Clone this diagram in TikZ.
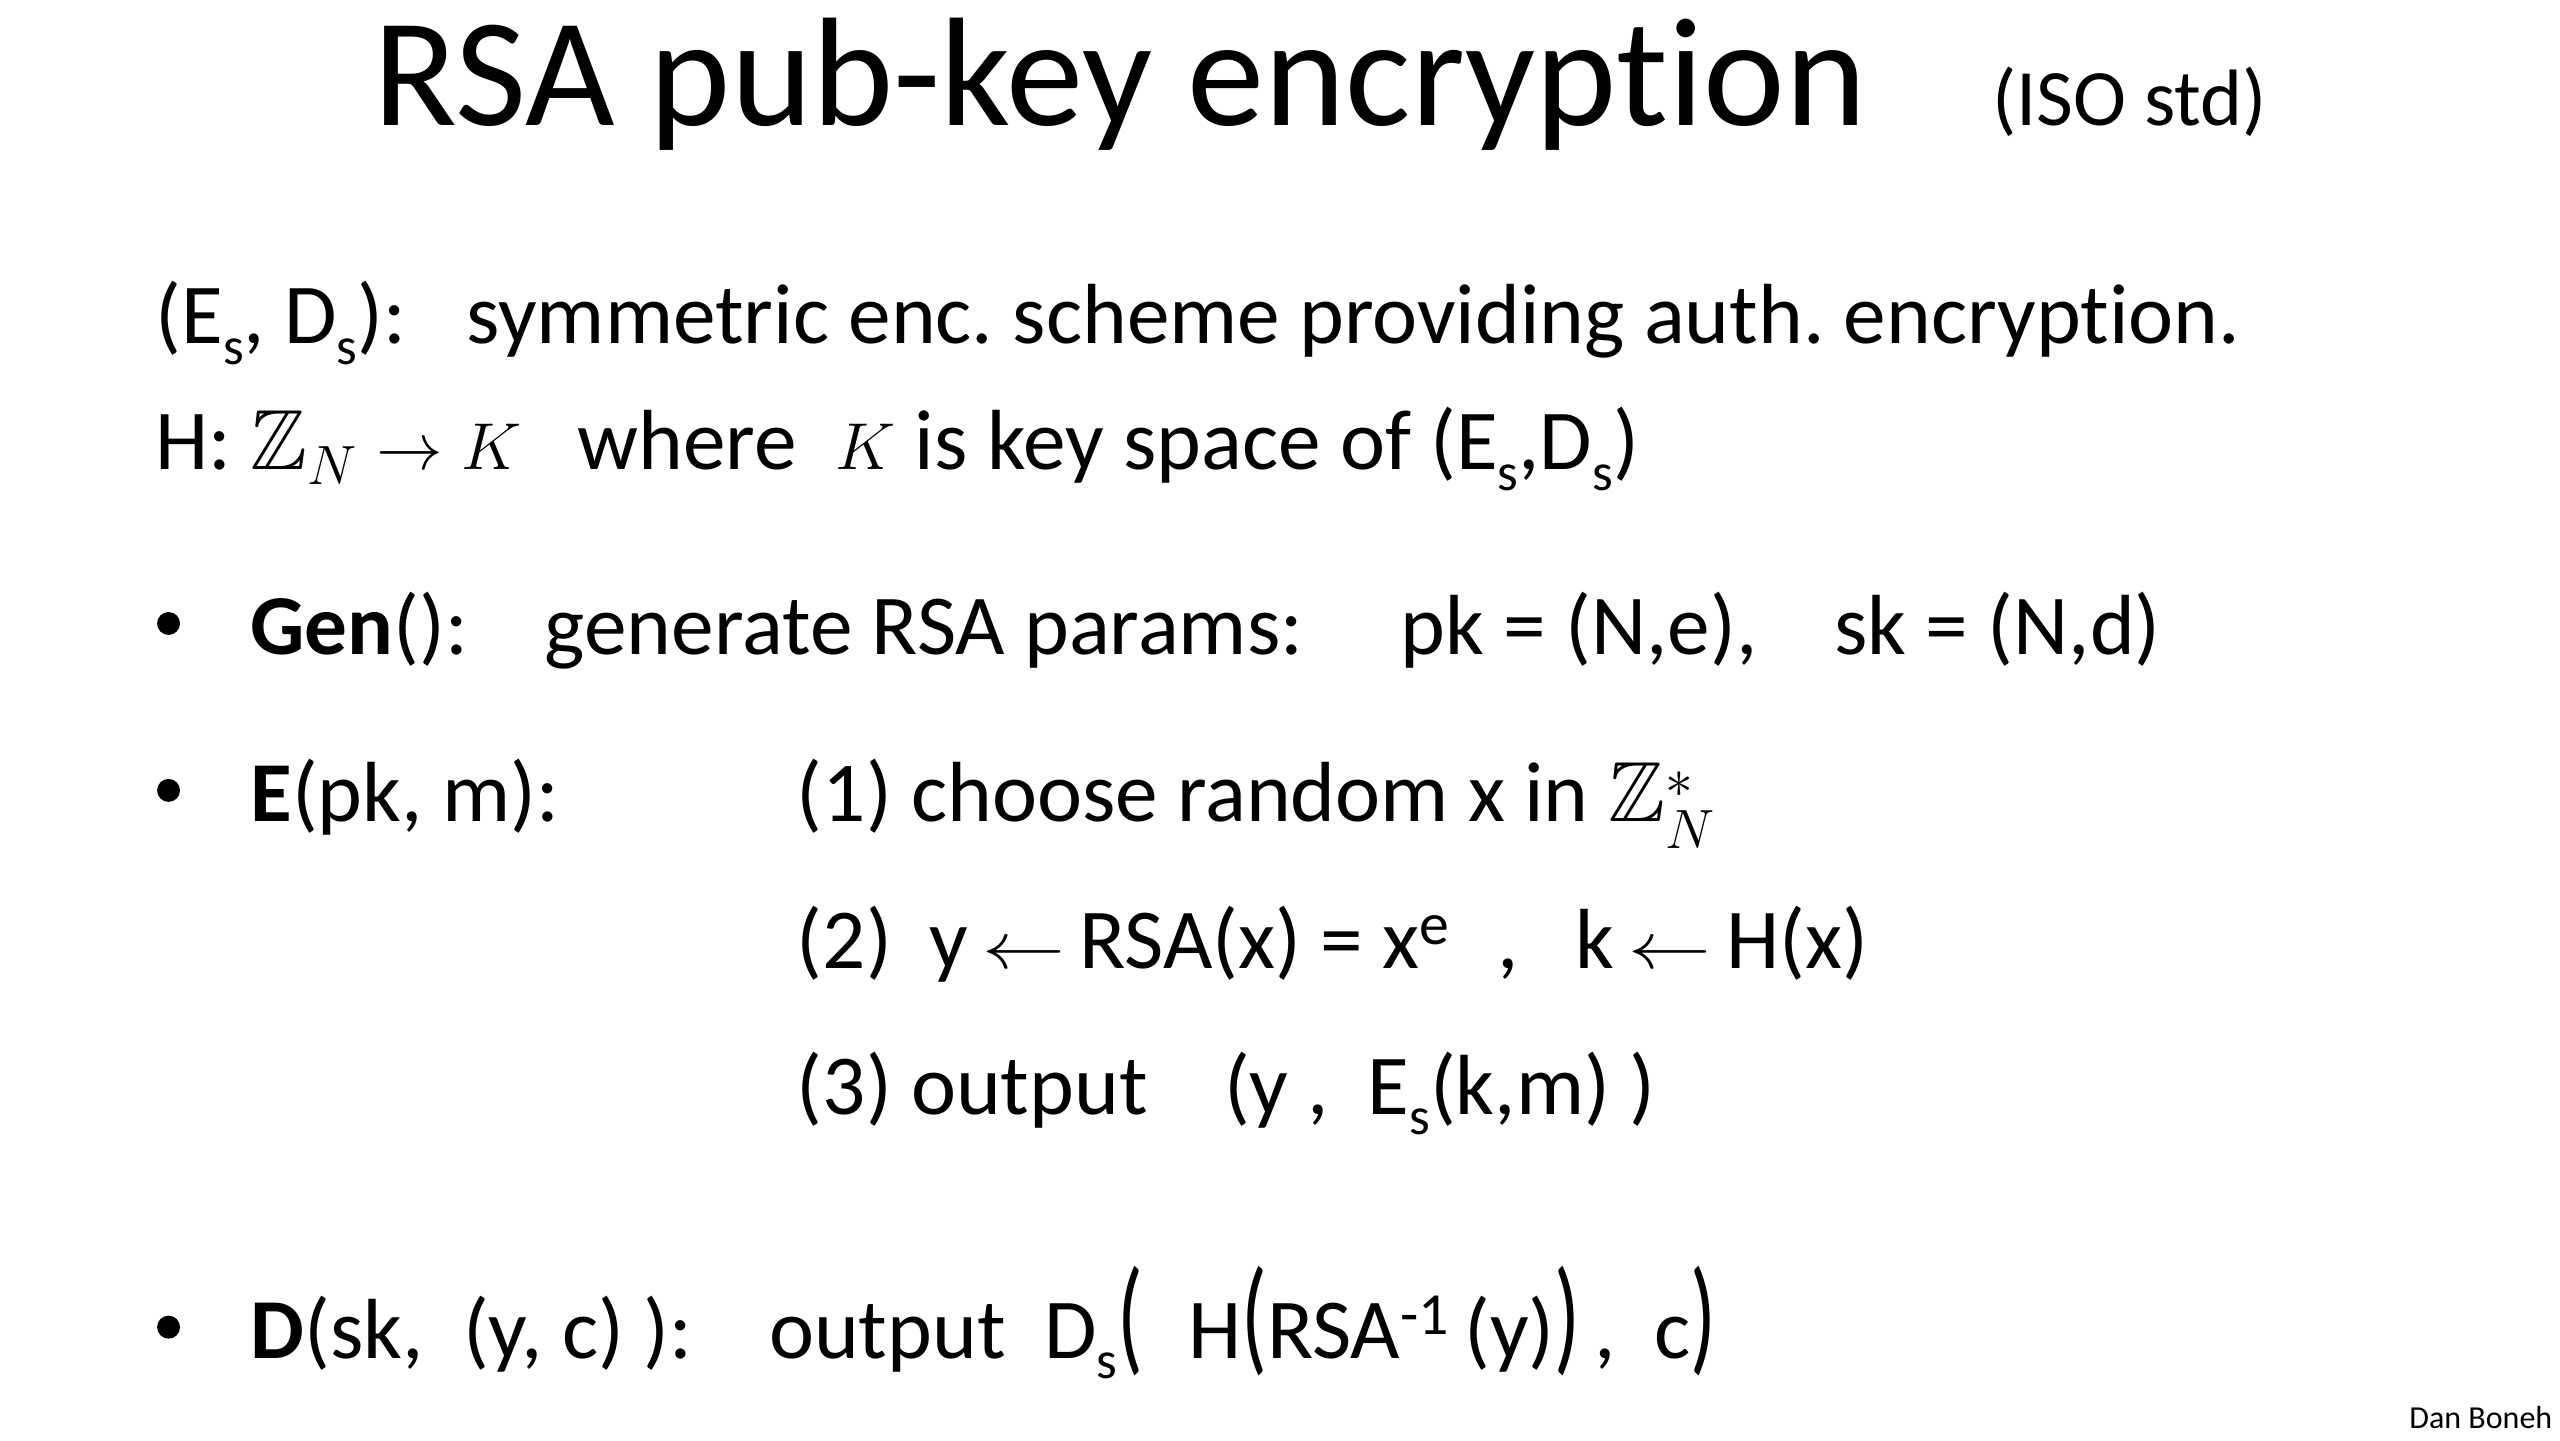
\documentclass[tikz,border=0pt]{standalone}
\usepackage{amssymb}
\usepackage{graphicx}
\usepackage{fontspec}
\setmainfont{Carlito}[Ligatures={NoCommon}]
\frenchspacing
\newcommand\lowsub[1]{\raisebox{-0.24em}{\scalebox{0.62}{#1}}}
\newcommand\bigpar[1]{\scalebox{1}[1.48]{#1}}
\newcommand\larr{\,\scalebox{1.25}[1]{$\leftarrow$}\,}
\tikzset{
  txt/.style={anchor=base west, inner sep=0pt, outer sep=0pt, font=\fontsize{32}{38}\selectfont},
  ttl/.style={anchor=base west, inner sep=0pt, font=\fontsize{58}{64}\selectfont},
  sml/.style={anchor=base west, inner sep=0pt, font=\fontsize{30}{34}\selectfont},
  dot/.style={circle, fill=black, inner sep=0pt, minimum size=8.6pt},
}
\begin{document}
\begin{tikzpicture}[x=0.6136pt,y=-0.6136pt]
\useasboundingbox (0,0) rectangle (1564.4,880);
% title
\node[ttl] (title) at (228,77) {RSA pub-key encryption};
\node[sml] (iso) at (1217,77) {(ISO std)};
% header lines
\node[txt] (l1a) at (95,210) {(E\lowsub{s}, D\lowsub{s}):};
\node[txt] (l1b) at (285,210) {symmetric enc. scheme providing auth. encryption.};
\node[txt] (l2a) at (95,287) {H: $\mathbb{Z}_N \rightarrow K$};
\node[txt] (l2b) at (353,287) {where\ \ $K$ is key space of (E\lowsub{s},D\lowsub{s})};
% Gen
\node[dot] (b1) at (103,381) {};
\node[txt] (gen) at (153,400) {\textbf{Gen}():};
\node[txt] (gen2) at (333,400) {generate RSA params:};
\node[txt] (pk) at (856,400) {pk = (N,e),};
\node[txt] (sk) at (1121,400) {sk = (N,d)};
% E
\node[dot] (b2) at (103,483) {};
\node[txt] (enc) at (153,502) {\textbf{E}(pk, m):};
\node[txt] (s1) at (487,502) {(1) choose random x in $\mathbb{Z}_N^*$};
\node[txt] (s2a) at (487,592) {(2)};
\node[txt] (s2b) at (568,592) {y\larr RSA(x) = x\textsuperscript{e}};
\node[txt] (s2c) at (915,592) {,};
\node[txt] (s2d) at (963,592) {k\larr H(x)};
\node[txt] (s3a) at (487,681) {(3) output};
\node[txt] (s3b) at (748,681) {(y ,\ \ E\lowsub{s}(k,m) )};
% D
\node[dot] (b3) at (103,811) {};
\node[txt] (dec) at (153,830) {\textbf{D}(sk,};
\node[txt] (dec2) at (283,830) {(y, c) ):};
\node[txt] (dout) at (470,830) {output};
\node[txt] (dds) at (638,830) {D\lowsub{s}\bigpar{(}};
\node[txt] (dh) at (726,830) {H\bigpar{(}RSA\textsuperscript{-1}\,(y)\bigpar{)}\,,\ \ c\bigpar{)}};
% footer
\node[anchor=base east, inner sep=0pt, font=\fontsize{12}{14}\selectfont] (auth) at (1560,873) {Dan Boneh};
\end{tikzpicture}
\end{document}
